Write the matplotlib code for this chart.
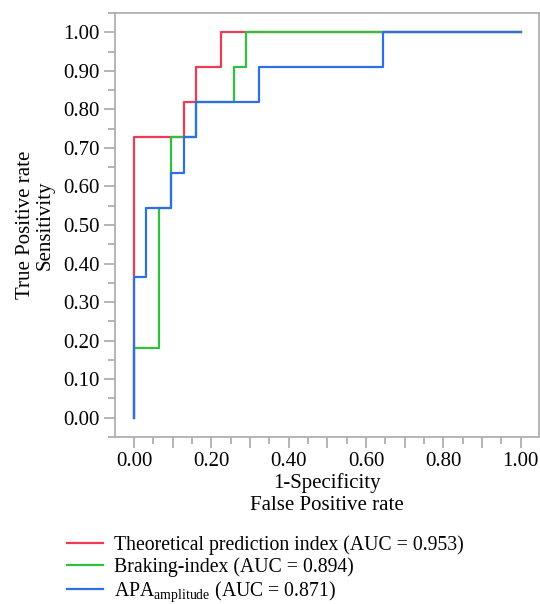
import numpy as np
import matplotlib.pyplot as plt
from matplotlib.ticker import MultipleLocator, FuncFormatter

plt.rcParams['font.family'] = ['Liberation Serif', 'DejaVu Serif']

# ROC step points (1-specificity, sensitivity)
theo_fpr = [0.0, 0.0, 0.129, 0.129, 0.161, 0.161, 0.226, 0.226, 1.0]
theo_tpr = [0.0, 0.727, 0.727, 0.818, 0.818, 0.909, 0.909, 1.0, 1.0]

brake_fpr = [0.0, 0.0, 0.065, 0.065, 0.097, 0.097, 0.161, 0.161, 0.258, 0.258, 0.290, 0.290, 1.0]
brake_tpr = [0.0, 0.182, 0.182, 0.545, 0.545, 0.727, 0.727, 0.818, 0.818, 0.909, 0.909, 1.0, 1.0]

apa_fpr = [0.0, 0.0, 0.032, 0.032, 0.097, 0.097, 0.129, 0.129, 0.161, 0.161, 0.323, 0.323, 0.645, 0.645, 1.0]
apa_tpr = [0.0, 0.364, 0.364, 0.545, 0.545, 0.636, 0.636, 0.727, 0.727, 0.818, 0.818, 0.909, 0.909, 1.0, 1.0]

labels = ['Theoretical prediction index (AUC = 0.953)',
          'Braking-index (AUC = 0.894)',
          r'APA$_{\mathregular{amplitude}}$ (AUC = 0.871)']
colors = ['#EE3A55', '#2EC03E', '#2F6FE6']

fig = plt.figure(figsize=(5.4, 6.04), dpi=100)
ax = fig.add_axes([0.213, 0.2765, 0.785, 0.702])

ax.plot(theo_fpr, theo_tpr, color=colors[0], lw=1.6, label=labels[0])
ax.plot(brake_fpr, brake_tpr, color=colors[1], lw=1.6, label=labels[1])
ax.plot(apa_fpr, apa_tpr, color=colors[2], lw=1.6, label=labels[2])

ax.set_xlim(-0.049, 1.047)
ax.set_ylim(-0.05, 1.05)

ax.xaxis.set_major_locator(MultipleLocator(0.1))
ax.xaxis.set_minor_locator(MultipleLocator(0.05))
ax.xaxis.set_major_formatter(FuncFormatter(
    lambda v, p: f'{v:.2f}' if round(v * 10) % 2 == 0 and v > -0.01 else ''))
ax.yaxis.set_major_locator(MultipleLocator(0.1))
ax.yaxis.set_minor_locator(MultipleLocator(0.05))
ax.yaxis.set_major_formatter(FuncFormatter(lambda v, p: f'{v:.2f}' if v > -0.01 else ''))

for s in ax.spines.values():
    s.set_color('#B0B0B0')
    s.set_linewidth(1.3)
ax.tick_params(which='major', length=8, width=1.2, color='#A8A8A8', labelsize=15, pad=3)
ax.tick_params(which='minor', length=5, width=1.2, color='#A8A8A8')

ax.set_xlabel('1-Specificity\nFalse Positive rate', fontsize=15, linespacing=1.25, labelpad=1)
ax.set_ylabel('True Positive rate\nSensitivity', fontsize=15, linespacing=1.05, labelpad=6)

fig.legend(loc='upper left', bbox_to_anchor=(0.11, 0.127), frameon=False,
           fontsize=14.2, handlelength=1.8, handletextpad=0.55, labelspacing=0.12,
           borderaxespad=0)

fig.savefig('out.png', dpi=100)
